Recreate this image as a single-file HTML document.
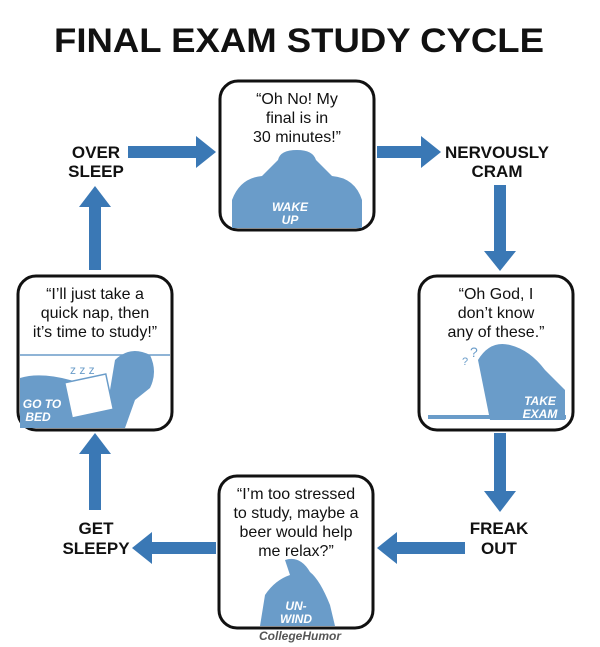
<!DOCTYPE html>
<html><head><style>
html,body{margin:0;padding:0;background:#fff;}
svg{display:block;font-family:"Liberation Sans",sans-serif;}
.t{font-size:16px;fill:#111;text-anchor:middle;}
.l{font-size:17px;font-weight:bold;fill:#111;text-anchor:middle;}
.w{font-size:12px;font-weight:bold;font-style:italic;fill:#fff;text-anchor:middle;}
</style></head><body>
<svg width="600" height="647" viewBox="0 0 600 647">
<text x="299" y="52" font-size="34" font-weight="bold" text-anchor="middle" fill="#111" textLength="490" lengthAdjust="spacingAndGlyphs">FINAL EXAM STUDY CYCLE</text>
<g fill="#3a78b5">
<!-- top left arrow -> -->
<rect x="128" y="146" width="70" height="12"/><polygon points="196,136 216,152 196,168"/>
<!-- top right arrow -> -->
<rect x="377" y="146" width="46" height="12"/><polygon points="421,136 441,152 421,168"/>
<!-- right down -->
<rect x="494" y="185" width="12" height="68"/><polygon points="484,251 516,251 500,271"/>
<rect x="494" y="433" width="12" height="60"/><polygon points="484,491 516,491 500,512"/>
<!-- bottom right <- -->
<rect x="395" y="542" width="70" height="12"/><polygon points="397,532 377,548 397,564"/>
<rect x="150" y="542" width="66" height="12"/><polygon points="152,532 132,548 152,564"/>
<!-- left up -->
<rect x="89" y="452" width="12" height="58"/><polygon points="79,454 111,454 95,433"/>
<rect x="89" y="205" width="12" height="65"/><polygon points="79,207 111,207 95,186"/>
</g>
<text class="l" x="96" y="158">OVER</text><text class="l" x="96" y="177">SLEEP</text>
<text class="l" x="497" y="158">NERVOUSLY</text><text class="l" x="497" y="177">CRAM</text>
<text class="l" x="499" y="534">FREAK</text><text class="l" x="499" y="554">OUT</text>
<text class="l" x="96" y="534">GET</text><text class="l" x="96" y="554">SLEEPY</text>

<!-- top box -->
<rect x="220" y="81" width="154" height="149" rx="18" fill="#fff" stroke="#111" stroke-width="3"/>
<text class="t" x="297" y="104">“Oh No! My</text><text class="t" x="297" y="123">final is in</text><text class="t" x="297" y="142">30 minutes!”</text>
<path d="M232,228 L232,200 Q240,178 262,176 L278,160 Q280,150 297,150 Q313,150 316,160 L332,176 Q355,178 362,200 L362,228 Z" fill="#6a9cc9"/>
<text class="w" x="290" y="211">WAKE</text><text class="w" x="290" y="224">UP</text>

<!-- right box -->
<rect x="419" y="276" width="154" height="154" rx="18" fill="#fff" stroke="#111" stroke-width="3"/>
<text class="t" x="496" y="299">“Oh God, I</text><text class="t" x="496" y="318">don’t know</text><text class="t" x="496" y="337">any of these.”</text>
<path d="M478,360 Q490,340 510,345 Q530,350 545,370 L565,390 L565,420 L490,420 L485,395 Z" fill="#6a9cc9"/>
<rect x="428" y="415" width="138" height="4" fill="#6a9cc9"/>
<text x="470" y="357" font-size="14" fill="#6a9cc9">?</text><text x="462" y="365" font-size="11" fill="#6a9cc9">?</text>
<text class="w" x="540" y="405">TAKE</text><text class="w" x="540" y="418">EXAM</text>

<!-- bottom box -->
<rect x="219" y="476" width="154" height="152" rx="18" fill="#fff" stroke="#111" stroke-width="3"/>
<text class="t" x="296" y="499">“I’m too stressed</text><text class="t" x="296" y="518">to study, maybe a</text><text class="t" x="296" y="537">beer would help</text><text class="t" x="296" y="556">me relax?”</text>
<path d="M260,626 L265,595 Q275,580 290,575 L285,560 Q300,555 310,572 Q320,580 330,605 L335,626 Z" fill="#6a9cc9"/>
<text class="w" x="296" y="610">UN-</text><text class="w" x="296" y="623">WIND</text>
<text x="300" y="640" font-size="12" font-weight="bold" font-style="italic" fill="#555" text-anchor="middle">CollegeHumor</text>

<!-- left box -->
<rect x="18" y="276" width="154" height="154" rx="18" fill="#fff" stroke="#111" stroke-width="3"/>
<text class="t" x="95" y="299">“I’ll just take a</text><text class="t" x="95" y="318">quick nap, then</text><text class="t" x="95" y="337">it’s time to study!”</text>
<line x1="20" y1="355" x2="170" y2="355" stroke="#6a9cc9" stroke-width="1.5"/>
<path d="M20,378 Q40,372 70,380 L110,390 L115,360 Q130,345 150,355 Q158,372 150,388 L135,400 L125,428 L20,428 Z" fill="#6a9cc9"/>
<rect x="68" y="378" width="42" height="36" fill="#fff" stroke="#6a9cc9" stroke-width="1.5" transform="rotate(-12 89 396)"/>
<text x="70" y="374" font-size="12" fill="#6a9cc9">z z z</text>
<text class="w" x="42" y="408">GO TO</text><text class="w" x="38" y="421">BED</text>
</svg>
</body></html>
